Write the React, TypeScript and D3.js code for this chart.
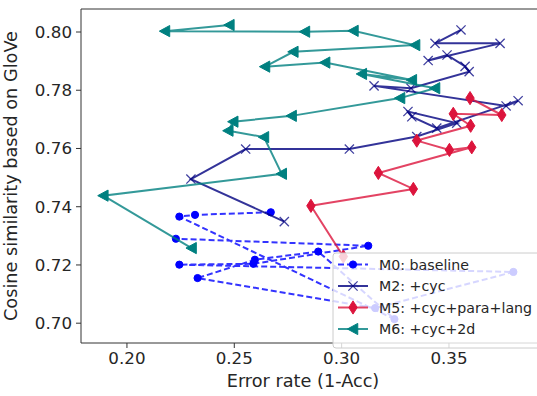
import * as d3 from "d3";

// ── Data ──────────────────────────────────────────────────
const errM0 = [0.267, 0.2317, 0.2244, 0.3246, 0.2891, 0.2596, 0.2329, 0.3156, 0.38, 0.2244, 0.2589, 0.3124, 0.2228];
const cosM0 = [0.7381, 0.7372, 0.7366, 0.7014, 0.7246, 0.7218, 0.7155, 0.7052, 0.7176, 0.7201, 0.7204, 0.7266, 0.729];

const errM2 = [0.2733, 0.2298, 0.2553, 0.3036, 0.335, 0.3536, 0.3309, 0.3327, 0.3443, 0.3822, 0.3766, 0.3151, 0.3323, 0.3594, 0.3575, 0.3491, 0.3403, 0.3738, 0.3435, 0.3556];
const cosM2 = [0.7349, 0.7495, 0.7598, 0.7598, 0.7641, 0.7687, 0.7727, 0.7709, 0.767, 0.7764, 0.7746, 0.7815, 0.7807, 0.7864, 0.7882, 0.7921, 0.7902, 0.7961, 0.7961, 0.8007];

const errM5 = [0.3008, 0.2857, 0.3334, 0.3171, 0.3606, 0.3502, 0.335, 0.3601, 0.352, 0.3746, 0.3598];
const cosM5 = [0.7229, 0.7403, 0.7461, 0.7516, 0.7604, 0.7595, 0.7627, 0.7678, 0.7719, 0.7715, 0.7773];

const errM6 = [0.2477, 0.2177, 0.2829, 0.3055, 0.3342, 0.2775, 0.2643, 0.2923, 0.3327, 0.3094, 0.3435, 0.3272, 0.2767, 0.2495, 0.2472, 0.2638, 0.2721, 0.189, 0.2301];
const cosM6 = [0.8024, 0.8003, 0.8001, 0.8004, 0.7955, 0.7932, 0.7881, 0.7895, 0.7835, 0.7856, 0.7807, 0.7773, 0.7712, 0.7692, 0.7661, 0.7639, 0.7513, 0.7438, 0.7258];

const xTicks = [0.2, 0.25, 0.3, 0.35];
const yTicks = [0.7, 0.72, 0.74, 0.76, 0.78, 0.8];

const labels = ["M0: baseline", "M2: +cyc", "M5: +cyc+para+lang", "M6: +cyc+2d"];

// ── Layout ────────────────────────────────────────────────
const W = 537, H = 396;
const left = 81, top = 9, bottom = 343, right = 537;
const FONT = "DejaVu Sans, sans-serif";

const x = d3.scaleLinear().domain([0.1786, 0.391]).range([left, right]);
const y = d3.scaleLinear().domain([0.6932, 0.8079]).range([bottom, top]);

// ── Markers ───────────────────────────────────────────────
function marker(kind: string, cx: number, cy: number, color: string, key: any) {
  if (kind === "o")
    return <circle key={key} cx={cx} cy={cy} r={3.6} fill={color} stroke={color} strokeWidth={1} />;
  if (kind === "x") {
    const s = 4.6;
    return (
      <path key={key}
        d={`M${cx - s},${cy - s}L${cx + s},${cy + s}M${cx - s},${cy + s}L${cx + s},${cy - s}`}
        stroke={color} strokeWidth={1.3} strokeOpacity={0.75} fill="none" />
    );
  }
  if (kind === "d") {
    const w = 4.2, h = 6.6;
    return (
      <path key={key}
        d={`M${cx},${cy - h}L${cx + w},${cy}L${cx},${cy + h}L${cx - w},${cy}Z`}
        fill={color} stroke={color} strokeWidth={1} />
    );
  }
  const s = 5.6;
  return (
    <path key={key}
      d={`M${cx - s},${cy}L${cx + s * 0.85},${cy - s}L${cx + s * 0.85},${cy + s}Z`}
      fill={color} stroke={color} strokeWidth={1} />
  );
}

const series = [
  { xs: errM0, ys: cosM0, color: "#0000ff", kind: "o", dash: "6,3" },
  { xs: errM2, ys: cosM2, color: "#000080", kind: "x", dash: null },
  { xs: errM5, ys: cosM5, color: "#dc143c", kind: "d", dash: null },
  { xs: errM6, ys: cosM6, color: "#008080", kind: "<", dash: null },
];

const line = d3.line<[number, number]>().x(d => x(d[0])).y(d => y(d[1]));

export default function App() {
  const legX = 333, legY = 253, rowH = 21.5;

  return (
    <svg width={W} height={H} style={{ position: "absolute", left: 0, top: 0, background: "#fff" }}
      fontFamily={FONT}>
      <defs>
        <clipPath id="plot">
          <rect x={left} y={top} width={right - left + 20} height={bottom - top} />
        </clipPath>
      </defs>

      {/* ── Series ── */}
      <g clipPath="url(#plot)">
        {series.map((s, i) => {
          const pts = s.xs.map((v, j) => [v, s.ys[j]] as [number, number]);
          return (
            <g key={i}>
              <path d={line(pts) || ""} fill="none" stroke={s.color} strokeWidth={2}
                strokeOpacity={0.8} strokeDasharray={s.dash || undefined} />
              {pts.map((p, j) => marker(s.kind, x(p[0]), y(p[1]), s.color, j))}
            </g>
          );
        })}
      </g>

      {/* ── Spines ── */}
      <line x1={left} x2={left} y1={top} y2={bottom} stroke="#333" strokeWidth={1} />
      <line x1={left} x2={right} y1={top} y2={top} stroke="#333" strokeWidth={1} />
      <line x1={left} x2={right} y1={bottom} y2={bottom} stroke="#333" strokeWidth={1} />

      {/* ── X ticks ── */}
      {xTicks.map(t => (
        <g key={t}>
          <line x1={x(t)} x2={x(t)} y1={bottom} y2={bottom + 5} stroke="#333" />
          <text x={x(t)} y={364} textAnchor="middle" fontSize={16.7} fill="#262626">
            {t.toFixed(2)}
          </text>
        </g>
      ))}

      {/* ── Y ticks ── */}
      {yTicks.map(t => (
        <g key={t}>
          <line x1={left - 5} x2={left} y1={y(t)} y2={y(t)} stroke="#333" />
          <text x={left - 9} y={y(t) + 6} textAnchor="end" fontSize={16.7} fill="#262626">
            {t.toFixed(2)}
          </text>
        </g>
      ))}

      {/* ── Axis labels ── */}
      <text x={303} y={386.5} textAnchor="middle" fontSize={17.7} fill="#262626">
        Error rate (1-Acc)
      </text>
      <text transform={`translate(17,${(top + bottom) / 2}) rotate(-90)`} textAnchor="middle"
        fontSize={17.7} fill="#262626">
        Cosine similarity based on GloVe
      </text>

      {/* ── Legend ── */}
      <rect x={legX} y={legY} width={240} height={95} rx={3}
        fill="#fff" fillOpacity={0.8} stroke="#ccc" strokeWidth={1} />
      {series.map((s, i) => {
        const cy = legY + 11.5 + i * rowH;
        return (
          <g key={i}>
            <line x1={legX + 5} x2={legX + 35} y1={cy} y2={cy} stroke={s.color}
              strokeWidth={2} strokeOpacity={0.8} strokeDasharray={s.dash || undefined} />
            {marker(s.kind, legX + 20, cy, s.color, "m")}
            <text x={legX + 46} y={cy + 5} fontSize={14.2} fill="#262626">{labels[i]}</text>
          </g>
        );
      })}
    </svg>
  );
}
